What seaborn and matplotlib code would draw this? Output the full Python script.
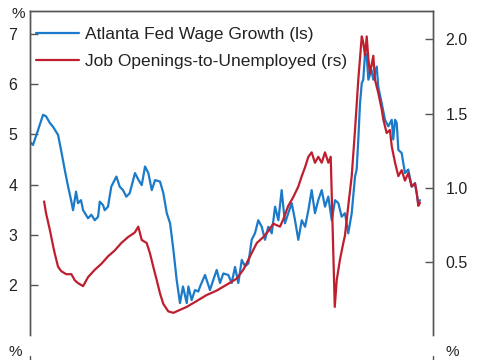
import matplotlib
matplotlib.use("Agg")
import matplotlib.pyplot as plt
import seaborn as sns
import pandas as pd
from matplotlib.lines import Line2D

# ---- data (decimal years, values) ----
wage_year = [1999.93, 2000.13, 2000.47, 2000.80, 2001.00, 2001.25, 2001.47, 2001.80, 2002.00, 2002.25,
             2002.47, 2002.67, 2002.80, 2003.00, 2003.13, 2003.33, 2003.47, 2003.80, 2004.02, 2004.25,
             2004.47, 2004.58, 2004.80, 2004.91, 2005.13, 2005.35, 2005.69, 2005.91, 2006.13, 2006.35,
             2006.58, 2006.93, 2007.15, 2007.38, 2007.60, 2007.82, 2008.05, 2008.27, 2008.60, 2008.82,
             2009.05, 2009.27, 2009.49, 2009.71, 2009.93, 2010.13, 2010.38, 2010.49, 2010.71, 2010.93,
             2011.15, 2011.27, 2011.60, 2011.93, 2012.15, 2012.38, 2012.60, 2012.82, 2013.15, 2013.38,
             2013.60, 2013.82, 2014.05, 2014.27, 2014.49, 2014.71, 2014.93, 2015.15, 2015.38, 2015.60,
             2015.82, 2016.05, 2016.27, 2016.49, 2016.71, 2016.93, 2017.15, 2017.38, 2017.60, 2017.82,
             2018.05, 2018.27, 2018.49, 2018.71, 2018.93, 2019.15, 2019.38, 2019.60, 2019.82, 2020.05,
             2020.27, 2020.49, 2020.71, 2020.93, 2021.15, 2021.38, 2021.60, 2021.71, 2021.82, 2021.93,
             2022.05, 2022.15, 2022.27, 2022.38, 2022.49, 2022.71, 2022.82, 2023.05, 2023.15, 2023.38,
             2023.60, 2023.82, 2024.05, 2024.15, 2024.27, 2024.38, 2024.49, 2024.71, 2024.93, 2025.15,
             2025.38, 2025.60, 2025.71, 2025.82, 2025.93]
wage_growth = [4.85, 4.79, 5.09, 5.39, 5.36, 5.23, 5.15, 4.99, 4.69, 4.29,
               3.96, 3.69, 3.49, 3.86, 3.63, 3.69, 3.49, 3.33, 3.40, 3.29,
               3.36, 3.66, 3.59, 3.49, 3.56, 3.96, 4.16, 3.96, 3.89, 3.76,
               3.83, 4.23, 4.10, 3.99, 4.36, 4.23, 3.89, 4.09, 4.06, 3.83,
               3.43, 3.23, 2.70, 2.10, 1.64, 1.97, 1.64, 1.97, 1.70, 1.90,
               1.87, 1.97, 2.20, 1.90, 2.10, 2.30, 2.04, 2.23, 2.20, 2.04,
               2.36, 2.04, 2.50, 2.37, 2.43, 2.90, 3.03, 3.29, 3.16, 2.90,
               3.16, 3.03, 3.56, 3.29, 3.89, 3.23, 3.43, 3.63, 3.29, 2.90,
               3.29, 3.16, 3.49, 3.89, 3.43, 3.69, 3.89, 3.56, 3.76, 3.29,
               3.69, 3.63, 3.36, 3.43, 3.03, 3.43, 4.16, 4.30, 4.90, 5.60,
               6.02, 6.09, 6.62, 6.55, 6.09, 6.28, 6.09, 6.35, 5.95, 5.62,
               5.29, 5.16, 5.29, 4.90, 5.29, 5.23, 4.69, 4.63, 4.23, 4.30,
               3.96, 4.03, 3.83, 3.63, 3.69]

jobs_year = [2000.87, 2001.00, 2001.25, 2001.47, 2001.58, 2001.80, 2002.02, 2002.35, 2002.69, 2002.91,
             2003.13, 2003.47, 2003.80, 2004.25, 2004.69, 2005.13, 2005.58, 2006.02, 2006.47, 2006.91,
             2007.15, 2007.38, 2007.71, 2007.93, 2008.15, 2008.38, 2008.60, 2008.82, 2009.15, 2009.49,
             2009.93, 2010.38, 2011.05, 2011.71, 2012.38, 2013.05, 2013.71, 2014.15, 2014.60, 2015.05,
             2015.49, 2015.82, 2016.15, 2016.60, 2016.82, 2017.15, 2017.49, 2017.82, 2018.05, 2018.27,
             2018.49, 2018.71, 2018.93, 2019.15, 2019.38, 2019.60, 2019.82, 2019.98, 2020.25, 2020.38,
             2020.60, 2020.82, 2020.93, 2021.15, 2021.38, 2021.60, 2021.82, 2022.05, 2022.15, 2022.27,
             2022.38, 2022.49, 2022.60, 2022.82, 2022.93, 2023.15, 2023.38, 2023.49, 2023.71, 2023.93,
             2024.05, 2024.27, 2024.49, 2024.71, 2024.93, 2025.15, 2025.38, 2025.60, 2025.71, 2025.82,
             2025.93]
jobs_ratio = [0.91, 0.83, 0.72, 0.61, 0.56, 0.47, 0.44, 0.42, 0.42, 0.38,
              0.36, 0.34, 0.40, 0.45, 0.49, 0.54, 0.58, 0.63, 0.67, 0.70,
              0.74, 0.65, 0.63, 0.56, 0.47, 0.38, 0.29, 0.22, 0.17, 0.16,
              0.18, 0.20, 0.24, 0.28, 0.31, 0.35, 0.39, 0.45, 0.54, 0.63,
              0.67, 0.71, 0.76, 0.74, 0.79, 0.88, 0.94, 1.01, 1.08, 1.14,
              1.21, 1.24, 1.17, 1.21, 1.17, 1.24, 1.17, 1.21, 0.20, 0.38,
              0.52, 0.63, 0.68, 0.88, 1.08, 1.39, 1.73, 2.02, 1.98, 1.89,
              2.02, 1.87, 1.77, 1.89, 1.73, 1.64, 1.53, 1.46, 1.37, 1.39,
              1.28, 1.17, 1.08, 1.12, 1.05, 1.10, 1.01, 1.03, 0.97, 0.88,
              0.90]

left_ticks = [2, 3, 4, 5, 6, 7]
right_ticks = [0.5, 1.0, 1.5, 2.0]
label_wage = "Atlanta Fed Wage Growth (ls)"
label_jobs = "Job Openings-to-Unemployed (rs)"

BLUE = "#1b7bc9"
RED = "#bf1e2e"
SPINE = "#555555"
TXT = "#222222"

sns.set_style("white")
plt.rcParams["font.family"] = ["Liberation Sans", "DejaVu Sans"]

wage = pd.DataFrame({"year": wage_year, "value": wage_growth})
jobs = pd.DataFrame({"year": jobs_year, "value": jobs_ratio})

fig = plt.figure(figsize=(4.85, 3.6), dpi=100)
ax = fig.add_axes([30 / 485, 1 - 335 / 360, 403 / 485, 324 / 360])
ax2 = ax.twinx()

sns.lineplot(data=wage, x="year", y="value", ax=ax, color=BLUE, linewidth=1.6, legend=False)
sns.lineplot(data=jobs, x="year", y="value", ax=ax2, color=RED, linewidth=1.6, legend=False)

ax.set_xlim(1999.93, 2026.8)
ax.set_ylim(1.004, 7.458)
ax2.set_ylim(0.011, 2.191)

ax.set_xlabel("")
ax.set_ylabel("")
ax2.set_ylabel("")
ax.set_xticks([])

ax.set_yticks(left_ticks)
ax.set_yticklabels([str(t) for t in left_ticks])
ax2.set_yticks(right_ticks)
ax2.set_yticklabels([f"{t:.1f}" for t in right_ticks])

for a in (ax, ax2):
    a.spines["bottom"].set_visible(False)
    for s in ("left", "right", "top"):
        a.spines[s].set_color(SPINE)
        a.spines[s].set_linewidth(1.0)

ax.tick_params(axis="y", direction="in", length=6, width=1, color=SPINE, pad=9,
               labelsize=11.5, labelcolor=TXT, left=True)
ax2.tick_params(axis="y", direction="in", length=6, width=1, color=SPINE, pad=9,
                labelsize=11.5, labelcolor=TXT, right=True)

handles = [Line2D([0], [0], color=BLUE, linewidth=1.6), Line2D([0], [0], color=RED, linewidth=1.6)]
ax2.legend(handles, [label_wage, label_jobs], loc="upper left", bbox_to_anchor=(0.015, 0.95),
           frameon=False, fontsize=12.5, handlelength=2.5, handletextpad=0.32,
           labelspacing=0.68, borderpad=0, borderaxespad=0, labelcolor=TXT)

fig.text(18 / 485, 1 - 14 / 360, "%", ha="center", va="center", fontsize=11, color=TXT)
fig.text(15 / 485, 1 / 360, "%", ha="center", va="bottom", fontsize=11, color=TXT)
fig.text(452 / 485, 1 / 360, "%", ha="center", va="bottom", fontsize=11, color=TXT)
fig.add_artist(Line2D([30 / 485, 30 / 485], [0, 4 / 360], color=SPINE, linewidth=1.0))
fig.add_artist(Line2D([433 / 485, 433 / 485], [0, 4 / 360], color=SPINE, linewidth=1.0))

fig.savefig("out.png", dpi=100)
